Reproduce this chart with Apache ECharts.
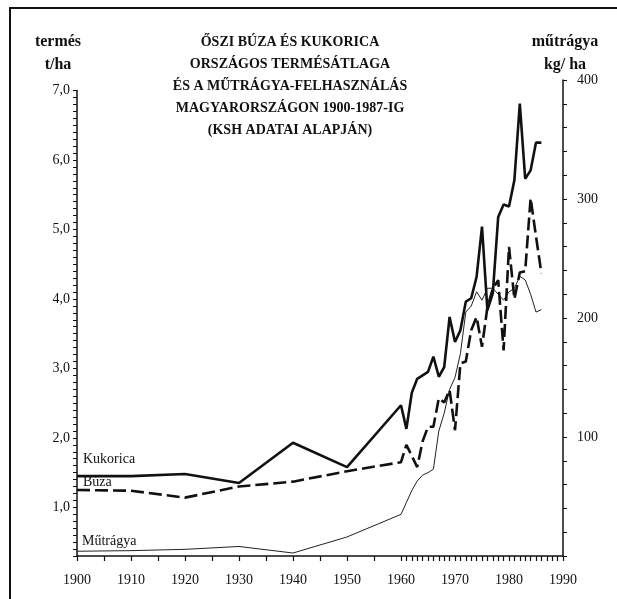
<!DOCTYPE html>
<html>
<head>
<meta charset="utf-8">
<script src="https://cdn.jsdelivr.net/npm/echarts@6/dist/echarts.min.js"></script>
<style>
html, body { margin: 0; padding: 0; background: #fff; }
#chart { width: 617px; height: 599px; }
</style>
</head>
<body>
<div id="chart"></div>
<script>
// évek (x tengely kategóriái 1900..1990)
var tengelyEvek = [];
for (var e = 1900; e <= 1990; e++) tengelyEvek.push(String(e));

// mért évek
var evek = [1900, 1910, 1920, 1930, 1940, 1950,
  1960, 1961, 1962, 1963, 1964, 1965, 1966, 1967, 1968, 1969,
  1970, 1971, 1972, 1973, 1974, 1975, 1976, 1977, 1978, 1979,
  1980, 1981, 1982, 1983, 1984, 1985, 1986];

// kukorica termésátlag, t/ha
var kukorica = [1.45, 1.45, 1.48, 1.35, 1.93, 1.58,
  2.47, 2.13, 2.65, 2.85, 2.90, 2.95, 3.17, 2.88, 3.02, 3.74,
  3.38, 3.55, 3.96, 4.01, 4.32, 5.04, 3.84, 4.08, 5.18, 5.36,
  5.33, 5.71, 6.81, 5.73, 5.85, 6.25, 6.25];

// őszi búza termésátlag, t/ha
var buza = [1.25, 1.24, 1.14, 1.30, 1.37, 1.52,
  1.65, 1.90, 1.74, 1.58, 1.95, 2.16, 2.16, 2.57, 2.51, 2.69,
  2.11, 3.07, 3.10, 3.55, 3.74, 3.31, 3.88, 4.15, 4.27, 3.26,
  4.75, 4.00, 4.38, 4.40, 5.45, 4.90, 4.37];

// műtrágya-felhasználás, kg/ha
var mutragya = [4, 4.5, 5.6, 8, 2.5, 16,
  35, 45, 55, 63, 68, 70, 73, 105, 120, 140,
  150, 170, 205, 210, 222, 215, 225, 225, 220, 215,
  222, 225, 235, 232, 220, 205, 207];

var cim = ['ŐSZI BÚZA ÉS KUKORICA', 'ORSZÁGOS TERMÉSÁTLAGA', 'ÉS A MŰTRÁGYA-FELHASZNÁLÁS',
  'MAGYARORSZÁGON 1900-1987-IG', '(KSH ADATAI ALAPJÁN)'];

function parok(ertekek) {
  return evek.map(function (ev, i) {
    return [String(ev), ertekek[i]];
  });
}

var serif = '"Liberation Serif", "DejaVu Serif", serif';
var fekete = '#111';

var chart = echarts.init(document.getElementById('chart'));

var xTengely = {
  type: 'category',
  data: tengelyEvek,
  boundaryGap: false,
  axisLine: { lineStyle: { color: fekete, width: 1.5 } },
  axisTick: {
    length: 5,
    lineStyle: { color: fekete, width: 1.2 },
    interval: function (i, v) {
      var y = +v;
      return y >= 1960 || y % 5 === 0;
    }
  },
  axisLabel: {
    interval: function (i, v) { return +v % 10 === 0; },
    margin: 17,
    color: fekete,
    fontFamily: serif,
    fontSize: 14
  },
  splitLine: { show: false }
};

var option = {
  animation: false,
  backgroundColor: '#fff',
  grid: [
    { left: 77, right: 54, top: 90.5, bottom: 43 },
    { left: 77, right: 54, top: 80, bottom: 43 }
  ],
  xAxis: [
    xTengely,
    { gridIndex: 1, type: 'category', data: tengelyEvek, boundaryGap: false, show: false }
  ],
  yAxis: [
    {
      gridIndex: 0,
      type: 'value',
      position: 'left',
      min: 0.3,
      max: 7.0,
      interval: 0.1,
      axisLine: { show: true, lineStyle: { color: fekete, width: 1.5 } },
      axisTick: { show: true, length: 4, lineStyle: { color: fekete, width: 1 } },
      axisLabel: {
        margin: 7,
        color: fekete,
        fontFamily: serif,
        fontSize: 14,
        formatter: function (v) {
          var r = Math.round(v);
          return (Math.abs(v - r) < 1e-6 && r >= 1) ? r.toFixed(1).replace('.', ',') : '';
        }
      },
      splitLine: { show: false }
    },
    {
      gridIndex: 1,
      type: 'value',
      position: 'right',
      min: 0,
      max: 400,
      interval: 20,
      axisLine: { show: true, lineStyle: { color: fekete, width: 1.5 } },
      axisTick: { show: true, length: 4, lineStyle: { color: fekete, width: 1 } },
      axisLabel: {
        margin: 14,
        color: fekete,
        fontFamily: serif,
        fontSize: 14,
        formatter: function (v) {
          return (v > 0 && v % 100 === 0) ? String(v) : '';
        }
      },
      splitLine: { show: false }
    }
  ],
  series: [
    {
      name: 'Műtrágya',
      type: 'line',
      xAxisIndex: 1,
      yAxisIndex: 1,
      symbol: 'none',
      data: parok(mutragya),
      lineStyle: { color: '#222', width: 1 }
    },
    {
      name: 'Búza',
      type: 'line',
      xAxisIndex: 0,
      yAxisIndex: 0,
      symbol: 'none',
      data: parok(buza),
      lineStyle: { color: fekete, width: 2.6, type: [13, 5] }
    },
    {
      name: 'Kukorica',
      type: 'line',
      xAxisIndex: 0,
      yAxisIndex: 0,
      symbol: 'none',
      data: parok(kukorica),
      lineStyle: { color: fekete, width: 2.6 }
    }
  ],
  graphic: [
    // keret
    { type: 'polyline', shape: { points: [[10, 599], [10, 8], [617, 8]] }, style: { stroke: fekete, lineWidth: 2, fill: null } },
    // cím
    {
      type: 'text', x: 290, y: 31,
      style: { text: cim.join('\n'), font: 'bold 14px ' + serif, fill: fekete, textAlign: 'center', textVerticalAlign: 'top', lineHeight: 22 }
    },
    // tengelyfeliratok
    { type: 'text', x: 58, y: 42, style: { text: 'termés', font: 'bold 16px ' + serif, fill: fekete, textAlign: 'center', textVerticalAlign: 'middle' } },
    { type: 'text', x: 58, y: 65, style: { text: 't/ha', font: 'bold 16px ' + serif, fill: fekete, textAlign: 'center', textVerticalAlign: 'middle' } },
    { type: 'text', x: 565, y: 42, style: { text: 'műtrágya', font: 'bold 16px ' + serif, fill: fekete, textAlign: 'center', textVerticalAlign: 'middle' } },
    { type: 'text', x: 565, y: 65, style: { text: 'kg/ ha', font: 'bold 16px ' + serif, fill: fekete, textAlign: 'center', textVerticalAlign: 'middle' } },
    // sorozatnevek
    { type: 'text', x: 83, y: 459, style: { text: 'Kukorica', font: '14px ' + serif, fill: fekete, textVerticalAlign: 'middle' } },
    { type: 'text', x: 83, y: 482, style: { text: 'Búza', font: '14px ' + serif, fill: fekete, textVerticalAlign: 'middle' } },
    { type: 'text', x: 82, y: 541, style: { text: 'Műtrágya', font: '14px ' + serif, fill: fekete, textVerticalAlign: 'middle' } }
  ]
};

chart.setOption(option);
</script>
</body>
</html>
